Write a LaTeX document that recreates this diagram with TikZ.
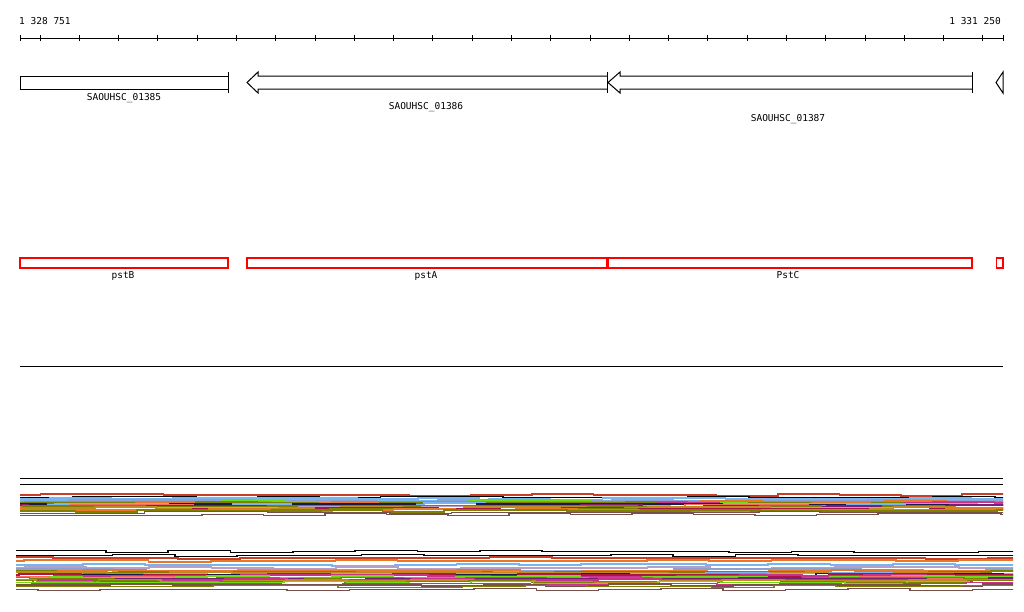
\documentclass[tikz,border=0pt]{standalone}
\usepackage{fontspec}
\setmonofont{DejaVu Sans Mono}
\usepackage{tikz}
\usepackage{xcolor}
\definecolor{Feat-R}{RGB}{255, 0, 0}
\definecolor{Aln-A}{RGB}{200, 60, 40}
\definecolor{Aln-B}{RGB}{120, 180, 240}
\definecolor{Aln-C}{RGB}{128, 128, 0}
\definecolor{Aln-D}{RGB}{110, 220, 20}
\definecolor{Aln-E}{RGB}{200, 50, 140}
\definecolor{Aln-F}{RGB}{25, 25, 80}
\definecolor{Aln-G}{RGB}{230, 120, 40}
\definecolor{Aln-H}{RGB}{180, 160, 200}
\definecolor{Aln-I}{RGB}{120, 80, 75}
\definecolor{Aln-J}{RGB}{170, 20, 70}
\definecolor{Aln-K}{RGB}{140, 160, 210}
\definecolor{Aln-L}{RGB}{240, 110, 100}
\definecolor{Aln-M}{RGB}{120, 30, 120}
\definecolor{Aln-N}{RGB}{190, 140, 30}

\begin{document}
\begin{tikzpicture}[x=1pt, y=-1pt, font=\ttfamily\fontsize{9.5}{10}\selectfont,
    gene/.style={draw=black, line width=1pt, fill=white},
    feat/.style={draw=Feat-R, line width=1.2pt},
    lbl/.style={anchor=base, inner sep=0pt},
    trace/.style={line width=1.6pt}]

    \useasboundingbox (0,0) rectangle (1024,611);
    \pgfmathsetseed{11}

    % ruler
    \coordinate (rulerL) at (20,38);
    \coordinate (rulerR) at (1003,38);
    \draw[line width=1pt] (rulerL) -- (rulerR);
    \draw[line width=1pt] (20,35) -- (20,41) (1003,35) -- (1003,41);
    \foreach \k in {0,...,24}
        \draw[line width=1pt] ({40+39.29*\k},35) -- ++(0,6);
    \node[lbl, anchor=base west] (posL) at (19,24) {1 328 751};
    \node[lbl, anchor=base east] (posR) at (1001,24) {1 331 250};

    % genes
    \draw[gene] (20,76) rectangle (228,89);
    \draw[line width=1pt] (228,72) -- (228,93);
    \node[lbl] (g01385) at (124,100.7) {SAOUHSC\_01385};

    \draw[gene] (607,76) -- (258,76) -- (258,72) -- (247,82.5) -- (258,93) -- (258,89) -- (607,89);
    \draw[line width=1pt] (607,72) -- (607,93);
    \node[lbl] (g01386) at (426,109) {SAOUHSC\_01386};

    \draw[gene] (972,76) -- (620,76) -- (620,72) -- (608,82.5) -- (620,93) -- (620,89) -- (972,89);
    \draw[line width=1pt] (972,72) -- (972,93);
    \node[lbl] (g01387) at (788,121) {SAOUHSC\_01387};

    \draw[gene] (1003,72) -- (996,82.5) -- (1003,93) -- cycle;

    % features
    \draw[feat] (20,258) rectangle (228,268);
    \node[lbl] (pstB) at (123,278.7) {pstB};
    \draw[feat] (247,258) rectangle (607,268);
    \node[lbl] (pstA) at (426,278.7) {pstA};
    \draw[feat] (607,258) rectangle (972,268);
    \draw[draw=Feat-R, line width=2pt] (607.5,258) -- (607.5,268);
    \node[lbl] (PstC) at (788,278.7) {PstC};
    \draw[feat] (996.5,258) rectangle (1003,268);

    % separators
    \draw[line width=1pt] (20,366) -- (1003,366);
    \draw[line width=1pt] (20,478) -- (1003,478);
    \draw[line width=1pt] (20,484) -- (1003,484);

    % upper alignment bundle
    \begin{scope}
    \clip (20,488) rectangle (1003,520);
    \foreach \y/\c [evaluate=\y as \ph using 62*rnd] in {495/Aln-A, 497.5/black, 499/Aln-B,
        500/Aln-B, 500.7/Aln-K, 501.4/Aln-D, 502/Aln-G, 502.7/Aln-C, 503.4/Aln-E, 504/Aln-B,
        504.7/Aln-F, 505.4/Aln-L, 506/Aln-M, 506.7/Aln-C, 507.4/Aln-H, 508/Aln-N, 508.7/Aln-J,
        509.4/Aln-C, 510/Aln-G, 511/Aln-C, 512.5/Aln-I, 514.5/Aln-I}
        \draw[trace, \c] ({20-\ph},\y) \foreach \k in {0,...,16} {
            -- ({20-\ph+61.44*\k},{\y+round(2*rnd-1)}) -- ++(61.44,0) };
    \end{scope}

    % lower alignment bundle
    \begin{scope}
    \clip (16,545) rectangle (1013,595);
    \foreach \y/\c [evaluate=\y as \ph using 62*rnd] in {551.5/black, 555.5/black, 558/Aln-A,
        561/Aln-G, 565/Aln-B, 568/Aln-H, 570/Aln-K, 571/Aln-G, 572/Aln-C, 572.8/Aln-N,
        573.6/Aln-B, 574.4/Aln-F, 575.2/Aln-J, 576/Aln-E, 576.8/Aln-D, 577.6/Aln-L, 578.4/Aln-C,
        579.2/Aln-M, 580/Aln-E, 580.8/Aln-N, 581.6/Aln-C, 582.4/Aln-D, 583.5/Aln-E, 585/Aln-I,
        586.5/Aln-C, 589.5/Aln-I}
        \draw[trace, \c] ({16-\ph},\y) \foreach \k in {0,...,16} {
            -- ({16-\ph+62.31*\k},{\y+round(2*rnd-1)}) -- ++(62.31,0) };
    \end{scope}

\end{tikzpicture}
\end{document}
